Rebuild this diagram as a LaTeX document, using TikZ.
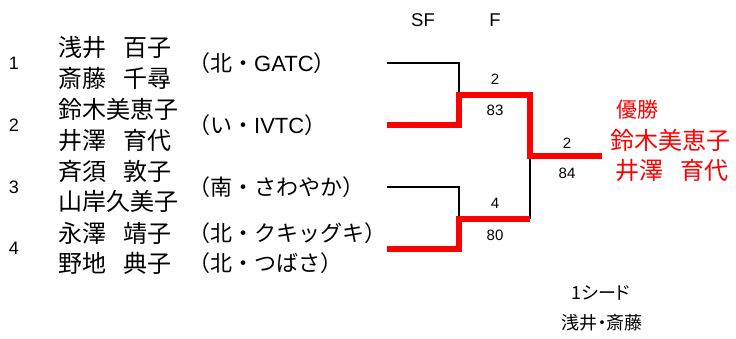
\documentclass[tikz,border=0pt]{standalone}
\usepackage{fontspec}
\setmainfont{Noto Sans CJK JP}
\newfontfamily\jpp[RawFeature=+palt]{Noto Sans CJK JP}
\newfontfamily\lat{Liberation Sans}
\newcommand\gsp{　\kern-0.28em}
\begin{document}
\begin{tikzpicture}[x=1pt,y=-1pt,
  ppl/.style={anchor=west,inner sep=0pt,font=\fontsize{24}{24}\selectfont},
  club/.style={anchor=west,inner sep=0pt,font=\fontsize{22}{22}\selectfont},
  seedno/.style={inner sep=0pt,font=\lat\fontsize{18}{18}\selectfont},
  score/.style={inner sep=0pt,font=\lat\fontsize{15}{15}\selectfont},
  rnd/.style={inner sep=0pt,font=\lat\fontsize{18.5}{18.5}\selectfont},
  win/.style={anchor=west,inner sep=0pt,text=red,font=\fontsize{24}{24}\selectfont},
  seednote/.style={inner sep=0pt,font=\jpp\fontsize{18}{18}\selectfont},
  lose/.style={line width=2pt,line join=miter},
  won/.style={line width=6pt,red,line join=miter}]
\useasboundingbox (0,0) rectangle (736,338);
% seeds
\node[seedno] (s1) at (14,63) {1};
\node[seedno] (s2) at (14,125) {2};
\node[seedno] (s3) at (14,187) {3};
\node[seedno] (s4) at (14,248) {4};
% names
\node[ppl] (n1a) at (58,48) {浅井\gsp 百子};
\node[ppl] (n1b) at (58,78) {斎藤\gsp 千尋};
\node[ppl] (n2a) at (58,109) {鈴木美恵子};
\node[ppl] (n2b) at (58,140) {井澤\gsp 育代};
\node[ppl] (n3a) at (58,171) {斉須\gsp 敦子};
\node[ppl] (n3b) at (58,201) {山岸久美子};
\node[ppl] (n4a) at (58,233) {永澤\gsp 靖子};
\node[ppl] (n4b) at (58,263) {野地\gsp 典子};
% clubs
\node[club] (c1) at (188,63) {（北・{\lat GATC}）};
\node[club] (c2) at (188,125) {（い・{\lat IVTC}）};
\node[club] (c3) at (188,187) {（南・さわやか）};
\node[club] (c4a) at (188,233) {（北・クキッグキ）};
\node[club] (c4b) at (188,263) {（北・つばさ）};
% rounds
\node[rnd] (sf) at (423,20) {SF};
\node[rnd] (f) at (495,20) {F};
% bracket coordinates
\coordinate (p1) at (387,63);
\coordinate (p1c) at (459,63);
\coordinate (m1) at (459,95);
\coordinate (p2) at (387,125);
\coordinate (p2c) at (459,125);
\coordinate (m1r) at (530,95);
\coordinate (fin) at (530,156);
\coordinate (champ) at (602,156);
\coordinate (p3) at (387,187);
\coordinate (p3c) at (459,187);
\coordinate (m2) at (459,219);
\coordinate (p4) at (387,249);
\coordinate (p4c) at (459,249);
\coordinate (m2r) at (530,219);
\draw[lose] (p1) -- (p1c) -- (m1);
\draw[lose] (p3) -- (p3c) -- (m2);
\draw[lose] (m2r) -- (fin);
\draw[won] (p2) -- (p2c) -- (m1) -- (m1r) -- (fin) -- (champ);
\draw[won] (p4) -- (p4c) -- (m2) -- (m2r);
% scores
\node[score] (a1) at (495,79) {2};
\node[score] (a2) at (495,110) {83};
\node[score] (b1) at (567,143) {2};
\node[score] (b2) at (567,173) {84};
\node[score] (c1s) at (495,203) {4};
\node[score] (c2s) at (495,235) {80};
% winner
\node[win,font=\fontsize{21}{21}\selectfont] (w0) at (616,110) {優勝};
\node[win] (w1) at (610,140) {鈴木美恵子};
\node[win] (w2) at (615,170) {井澤\gsp 育代};
% note
\node[seednote] (t1) at (601,293) {1シード};
\node[seednote] (t2) at (602,323) {浅井・斎藤};
\end{tikzpicture}
\end{document}
